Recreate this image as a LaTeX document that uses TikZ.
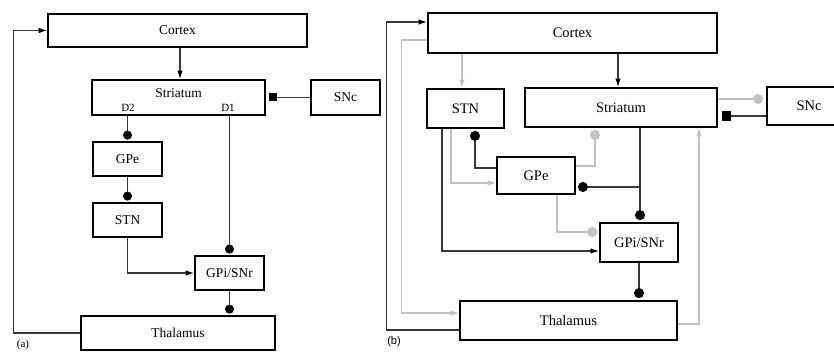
\documentclass[tikz,border=0pt]{standalone}
\usepackage{fontspec}
\setmainfont{Liberation Serif}
\newfontfamily\panelsans{Liberation Sans}
\usetikzlibrary{arrows.meta}
\begin{document}
\begin{tikzpicture}[x=1pt,y=-1pt,
  box/.style={draw, line width=1.8pt, inner sep=0pt, font=\fontsize{13.5}{15}\selectfont},
  boxb/.style={box, font=\fontsize{14.5}{16}\selectfont},
  txt/.style={inner sep=0pt, font=\fontsize{13.5}{15}\selectfont},
  dlabel/.style={inner sep=0pt, font=\fontsize{11}{13}\selectfont},
  conn/.style={line width=1.1pt, draw=black!78},
  pale/.style={line width=1.1pt, draw=black!24},
  excite/.style={-{Latex[length=8.5pt,width=5.5pt]}},
  inhib/.style={-{Circle[length=9pt]}, shorten >=1.5pt},
  inhibb/.style={-{Circle[length=10pt]}, shorten >=2pt},
  darktip/.append style={},
  sqtip/.style={-{Square[length=8pt,color=black]}, shorten >=3pt},
  sqtipb/.style={-{Square[length=9.5pt,color=black]}, shorten >=4pt},
  dex/.style={conn, -{Latex[length=8.5pt,width=5.5pt,color=black]}},
  din/.style={conn, -{Circle[length=9pt,color=black]}, shorten >=1.5pt},
  dinb/.style={conn, -{Circle[length=10pt,color=black]}, shorten >=2pt}]
\clip (0,0) rectangle (834,352);

% ---------- panel (a): direct and indirect pathways ----------
\node[box, minimum width=259pt, minimum height=33pt] (cortexA) at (177.5,30.5) {Cortex};
\node[box, minimum width=173pt, minimum height=35pt] (strA) at (178.5,97.5) {};
\node[txt] (strAt) at (178.5,93) {Striatum};
\node[dlabel] (d2) at (128,108) {D2};
\node[dlabel] (d1) at (228,108) {D1};
\node[box, minimum width=69pt, minimum height=35pt] (sncA) at (345.5,97.5) {SNc};
\node[box, minimum width=69pt, minimum height=34pt] (gpeA) at (127.5,159) {GPe};
\node[box, minimum width=69pt, minimum height=34pt] (stnA) at (127.5,220) {STN};
\node[box, minimum width=69pt, minimum height=34pt] (gpiA) at (229.5,273) {GPi/SNr};
\node[box, minimum width=194pt, minimum height=34pt] (thalA) at (178,333) {Thalamus};
\node[inner sep=0pt, font=\fontsize{11}{13}\selectfont] (labA) at (23,345) {(a)};

\coordinate (xa) at (180,0);
\draw[dex] (cortexA.south -| xa) -- (strA.north -| xa);
\draw[dex] (thalA.west) -- ++(-67,0) |- (cortexA.west);
\draw[conn,sqtip] (sncA.west) -- (strA.east);
\draw[din] (strA.south -| gpeA.north) -- (gpeA.north);
\draw[din] (gpeA.south) -- (stnA.north);
\draw[din] (strA.south -| gpiA.north) -- (gpiA.north);
\draw[dex] (stnA.south) |- (gpiA.west);
\draw[din] (gpiA.south) -- (thalA.north -| gpiA.south);

% ---------- panel (b): extended circuit ----------
\node[boxb, minimum width=289pt, minimum height=40pt] (cortexB) at (572.5,33) {Cortex};
\node[boxb, minimum width=77pt, minimum height=39pt] (stnB) at (465.5,108.5) {STN};
\node[boxb, minimum width=192pt, minimum height=39pt] (strB) at (621,107.5) {Striatum};
\node[boxb, minimum width=84pt, minimum height=38pt] (sncB) at (809,106) {SNc};
\node[boxb, minimum width=78pt, minimum height=37pt] (gpeB) at (536,175.5) {GPe};
\node[boxb, minimum width=78pt, minimum height=39pt] (gpiB) at (639,242.5) {GPi/SNr};
\node[boxb, minimum width=217pt, minimum height=39pt] (thalB) at (568.5,320.5) {Thalamus};
\node[inner sep=0pt, font=\panelsans\fontsize{11}{13}\selectfont] (labB) at (394,342) {(b)};

% thalamo-cortical loops
\draw[dex] ([shift={(0,9.5)}]thalB.west) -- ++(-73,0) |- ([shift={(0,-11)}]cortexB.west);
\draw[pale,excite] ([shift={(0,7)}]cortexB.west) -- ++(-26,0) |- ([shift={(0,-7.5)}]thalB.west);

% cortical inputs
\coordinate (xb1) at (462,0);
\coordinate (xb2) at (618,0);
\draw[pale,excite] (cortexB.south -| xb1) -- (stnB.north -| xb1);
\draw[dex] (cortexB.south -| xb2) -- (strB.north -| xb2);

% striatum and SNc
\coordinate (yb1) at (0,99);
\coordinate (yb2) at (0,116);
\draw[pale,inhibb,shorten >=3pt] (strB.east |- yb1) -- (sncB.west |- yb1);
\draw[conn,sqtipb] (sncB.west |- yb2) -- (strB.east |- yb2);

% GPe projections
\coordinate (yb3) at (0,168);
\coordinate (xb3) at (475,0);
\coordinate (yb4) at (0,166);
\coordinate (xb4) at (595,0);
\draw[dinb] (gpeB.west |- yb3) -| (stnB.south -| xb3);
\draw[pale,inhibb] (gpeB.east |- yb4) -| (strB.south -| xb4);

% striatal output
\coordinate (xb5) at (640,0);
\coordinate (brB) at (640,187);
\draw[dinb] (strB.south -| xb5) -- (gpiB.north -| xb5);
\draw[dinb] (brB) -- (gpeB.east |- brB);

% STN and GPe to GPi/SNr
\coordinate (xb6) at (451,0);
\coordinate (yb6) at (0,183);
\coordinate (xb7) at (557,0);
\coordinate (yb7) at (0,232);
\coordinate (xb8) at (442,0);
\coordinate (yb8) at (0,251);
\draw[pale,excite] (stnB.south -| xb6) |- (gpeB.west |- yb6);
\draw[pale,inhibb] (gpeB.south -| xb7) |- (gpiB.west |- yb7);
\draw[dex] (stnB.south -| xb8) |- (gpiB.west |- yb8);

% output stage
\coordinate (xb9) at (699,0);
\coordinate (yb9) at (0,324);
\draw[dinb] (gpiB.south) -- (thalB.north -| gpiB.south);
\draw[pale,excite] (thalB.east |- yb9) -| (strB.south -| xb9);
\end{tikzpicture}
\end{document}
